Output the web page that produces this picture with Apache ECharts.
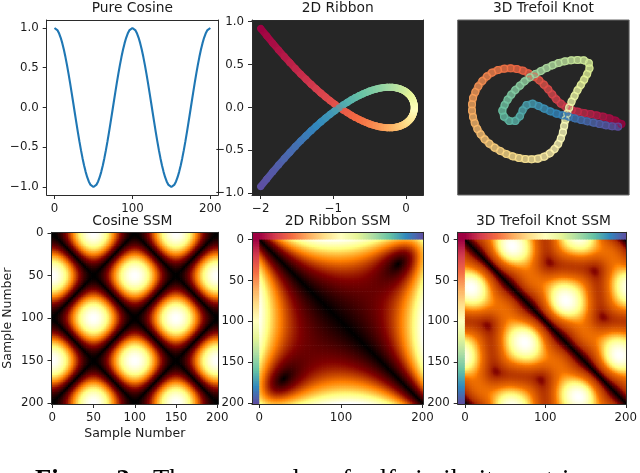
<!DOCTYPE html>
<html>
<head>
<meta charset="utf-8">
<style>html,body{margin:0;padding:0;background:#fff;overflow:hidden}#c{width:640px;height:473px;filter:blur(.45px)}</style>
<script src="https://cdn.jsdelivr.net/npm/echarts@6/dist/echarts.min.js"></script>
</head>
<body>
<div id="c"></div>
<script>
// sample index runs 0,2,...,200
const cosineHalf = [1,.992,.969,.93,.876,.809,.729,.637,.536,.426,.309,.187,.063,-.063,-.187,-.309,-.426,-.536,-.637,-.729,-.809,-.876,-.93,-.969,-.992,-1,-.992,-.969,-.93,-.876,-.809,-.729,-.637,-.536,-.426,-.309,-.187,-.063,.063,.187,.309,.426,.536,.637,.729,.809,.876,.93,.969,.992];
const cosineValues = [...cosineHalf, ...cosineHalf, 1];

const ribbonX = [-2,-1.916,-1.834,-1.754,-1.675,-1.598,-1.523,-1.449,-1.377,-1.307,-1.239,-1.172,-1.107,-1.043,-.981,-.921,-.863,-.806,-.751,-.698,-.646,-.596,-.548,-.502,-.457,-.414,-.372,-.333,-.294,-.258,-.223,-.19,-.159,-.13,-.102,-.075,-.051,-.028,-.007,.013,.03,.046,.061,.074,.085,.094,.101,.107,.112,.114,.115,
 .114,.112,.107,.101,.094,.085,.074,.061,.046,.03,.013,-.007,-.028,-.051,-.075,-.102,-.13,-.159,-.19,-.223,-.258,-.294,-.333,-.372,-.414,-.457,-.502,-.548,-.596,-.646,-.698,-.751,-.806,-.863,-.921,-.981,-1.043,-1.107,-1.172,-1.239,-1.307,-1.377,-1.449,-1.523,-1.598,-1.675,-1.754,-1.834,-1.916,-2];
const ribbonY = [.92,.833,.749,.669,.594,.522,.454,.389,.329,.272,.219,.169,.123,.079,.039,.003,-.031,-.062,-.09,-.116,-.138,-.158,-.176,-.191,-.204,-.214,-.223,-.229,-.233,-.236,-.236,-.235,-.232,-.228,-.222,-.215,-.206,-.197,-.186,-.174,-.161,-.148,-.133,-.118,-.102,-.086,-.069,-.052,-.035,-.018,0,
 .018,.035,.052,.069,.086,.102,.118,.133,.148,.161,.174,.186,.197,.206,.215,.222,.228,.232,.235,.236,.236,.233,.229,.223,.214,.204,.191,.176,.158,.138,.116,.09,.062,.031,-.003,-.039,-.079,-.123,-.169,-.219,-.272,-.329,-.389,-.454,-.522,-.594,-.669,-.749,-.833,-.92];

// trefoil coordinates in space, used for the distance matrix
const knotX = [0,.188,.372,.549,.715,.867,1.001,1.115,1.207,1.274,1.314,1.327,1.311,1.267,1.194,1.093,.966,.813,.636,.44,.225,-.005,-.246,-.494,-.748,-1,-1.249,-1.489,-1.718,-1.933,-2.127,-2.299,-2.446,-2.565,-2.654,-2.711,-2.736,-2.725,-2.681,-2.602,-2.49,-2.346,-2.171,-1.967,-1.737,-1.485,-1.213,-.923,-.622,-.314,0,
 .314,.622,.923,1.213,1.485,1.737,1.967,2.171,2.346,2.49,2.602,2.681,2.725,2.736,2.711,2.654,2.565,2.446,2.299,2.127,1.933,1.718,1.489,1.249,1,.748,.494,.246,.005,-.225,-.44,-.636,-.813,-.966,-1.093,-1.194,-1.267,-1.311,-1.327,-1.314,-1.274,-1.207,-1.115,-1.001,-.867,-.715,-.549,-.372,-.188,0];
const knotY = [-3,-2.982,-2.929,-2.842,-2.722,-2.569,-2.388,-2.18,-1.948,-1.696,-1.427,-1.146,-.855,-.559,-.262,.03,.316,.59,.849,1.09,1.309,1.504,1.673,1.812,1.921,2,2.047,2.062,2.047,2.002,1.927,1.826,1.701,1.554,1.388,1.206,1.012,.811,.603,.396,.191,-.008,-.196,-.37,-.528,-.667,-.784,-.878,-.945,-.986,-1,
 -.986,-.945,-.878,-.784,-.667,-.528,-.37,-.196,-.008,.191,.396,.603,.811,1.012,1.206,1.388,1.554,1.701,1.826,1.927,2.002,2.047,2.062,2.047,2,1.921,1.812,1.673,1.504,1.309,1.09,.849,.59,.316,.03,-.262,-.559,-.855,-1.146,-1.427,-1.696,-1.948,-2.18,-2.388,-2.569,-2.722,-2.842,-2.929,-2.982,-3];
const knotZ = [0,.187,.368,.536,.685,.809,.905,.969,.998,.992,.951,.876,.771,.637,.482,.309,.125,-.063,-.249,-.426,-.588,-.729,-.844,-.93,-.982,-1,-.982,-.93,-.844,-.729,-.588,-.426,-.249,-.063,.125,.309,.482,.637,.771,.876,.951,.992,.998,.969,.905,.809,.685,.536,.368,.187,0,
 -.187,-.368,-.536,-.685,-.809,-.905,-.969,-.998,-.992,-.951,-.876,-.771,-.637,-.482,-.309,-.125,.063,.249,.426,.588,.729,.844,.93,.982,1,.982,.93,.844,.729,.588,.426,.249,.063,-.125,-.309,-.482,-.637,-.771,-.876,-.951,-.992,-.998,-.969,-.905,-.809,-.685,-.536,-.368,-.187,0];

// trefoil as seen in the picture's 3D view (screen-like units of the hidden axes)
const knotViewX = [54.5,52.7,50.9,49,47.1,45.2,43.3,41.4,39.6,37.9,36.3,34.9,33.7,32.5,31.2,29.8,28.3,26.6,24.9,23.1,21.2,19.3,17.4,15.6,14.1,12.7,11.5,10.6,9.9,9.6,9.6,9.9,10.4,11.2,12.2,13.4,14.8,16.4,18.1,19.9,21.8,23.7,25.6,27.5,29.4,31.3,33,34.4,35.5,36.3,36.9,37.3,37.7,38.2,38.8,39.5,40.4,41.3,42.3,43.3,44.2,44.9,44.7,43.2,41.3,39.4,37.5,35.6,33.8,32,30.3,28.6,27,25.4,24,22.6,21.4,20.3,19.4,18.7,19.2,20.8,22.6,24,24.8,26,27.8,29.6,31.3,33.1,35,36.8,38.7,40.5,42.4,44.2,46.1,47.9,49.8,51.7,53.5];
const knotViewY = [37.2,36.2,35.5,35,34.6,34.2,33.9,33.5,33,32.2,31.1,29.8,28.3,26.8,25.4,24.1,23,22,21.2,20.7,20.5,20.6,21,21.8,22.9,24.3,25.9,27.6,29.4,31.3,33.2,35.1,36.9,38.7,40.3,41.8,43.1,44.3,45.3,46.2,46.9,47.4,47.7,47.8,47.6,47,46,44.7,43.2,41.5,39.7,37.8,35.9,34.1,32.3,30.5,28.8,27.1,25.5,23.9,22.2,20.5,18.9,18.1,18,18.1,18.4,18.9,19.6,20.4,21.3,22.2,23.2,24.4,25.7,27,28.4,29.9,31.5,33.2,35,36.3,36.3,34.9,33.1,31.5,31.1,31.8,32.6,33.4,34.1,34.6,35,35.5,36,36.4,36.8,37.2,37.6,37.9,38];

const sampleNumbers = cosineValues.map((_, i) => i * 2);
const stripNumbers = [-8, -6, -4, -2];
const titles = ['Pure Cosine', '2D Ribbon', '3D Trefoil Knot', 'Cosine SSM', '2D Ribbon SSM', '3D Trefoil Knot SSM'];
const captionHead = 'Figure 3:';
const captionBody = 'Three examples of self-similarity matrices';
const axisName = 'Sample Number';
const afmhot = ['#000000', '#800000', '#ff8000', '#ffff80', '#ffffff'];
const spectralStops = ['#9e0142','#d53e4f','#f46d43','#fdae61','#fee08b','#ffffbf','#e6f598','#abdda4','#66c2a5','#3288bd','#5e4fa2'];
// tone of the trefoil matrix: relative distance -> position in the afmhot ramp
const knotToneIn = [0, .28, .6, .8, 1];
const knotToneOut = [0, .33, .47, .72, 1];

const spectral = t => echarts.color.lerp(t, spectralStops);
const FONT = 'DejaVu Sans';
const INK = '#1a1a1a';
const LEFTS = [46.7, 252, 457.7], W = 171.4;
const TOPS = [20, 232.3], HS = [175, 171.7];
const lineStyle = { color: '#2b2b2b', width: 1 };

const grid = [];
for (let r = 0; r < 2; r++) for (let c = 0; c < 3; c++) {
  const g = { left: LEFTS[c], top: TOPS[r], width: W, height: HS[r] };
  if (r === 0 && c > 0) { g.show = true; g.backgroundColor = '#262626'; g.borderWidth = 0; }
  if (r === 0 && c === 2) { g.borderWidth = 1; g.borderColor = '#666'; }
  grid.push(g);
}
const label = { color: INK, fontFamily: FONT, fontSize: 11.8, margin: 8 };
const tick = { length: 4, lineStyle };
const minus = v => String(v).replace('-', '\u2212');

function valueAxis(gridIndex, min, max, values, fmt, extra) {
  return Object.assign({
    type: 'value', gridIndex, min, max, scale: true, splitLine: { show: false },
    axisLine: { show: true, onZero: false, lineStyle },
    axisTick: { show: true, customValues: values, ...tick },
    axisLabel: { ...label, customValues: values, formatter: v => minus(fmt(v)) }, z: 5
  }, extra || {});
}
function catAxis(gridIndex, cats, every, extra) {
  const show = (i, v) => +v >= 0 && +v % every === 0;
  return Object.assign({
    type: 'category', gridIndex, data: cats.map(String), splitLine: { show: false },
    axisLine: { show: true, onZero: false, lineStyle },
    axisTick: { show: true, alignWithLabel: true, interval: show, ...tick },
    axisLabel: { ...label, interval: show }, z: 5
  }, extra || {});
}
function frameAxes(gridIndex) {
  const a = { type: 'value', gridIndex, min: 0, max: 1, z: 5, silent: true, splitLine: { show: false },
    axisTick: { show: false }, axisLabel: { show: false }, axisLine: { show: true, onZero: false, lineStyle } };
  return [{ ...a, position: 'top' }, { ...a, position: 'right' }];
}
const yName = { name: axisName, nameLocation: 'middle', nameGap: 37.5, nameTextStyle: { color: INK, fontFamily: FONT, fontSize: 12.5 } };
const xName = { name: axisName, nameLocation: 'middle', nameGap: 23, nameTextStyle: { color: INK, fontFamily: FONT, fontSize: 12.5 } };

const stripCats = [...stripNumbers, ...sampleNumbers];
const xAxis = [
  valueAxis(0, -10, 210, [0, 100, 200], v => v),
  valueAxis(1, -2.12, .24, [-2, -1, 0], v => v),
  { type: 'value', gridIndex: 2, min: 5.3, max: 56.8, show: false },
  catAxis(3, sampleNumbers, 50, { ...xName }),
  catAxis(4, stripCats, 100),
  catAxis(5, stripCats, 100)
];
const yTicks = [-1, -.5, 0, .5, 1];
const yAxis = [
  valueAxis(0, -1.1, 1.1, yTicks, v => v.toFixed(1)),
  valueAxis(1, -1.02, 1.02, yTicks, v => v.toFixed(1)),
  { type: 'value', gridIndex: 2, min: 6, max: 58.5, inverse: true, show: false },
  catAxis(3, sampleNumbers, 50, { inverse: true, ...yName }),
  catAxis(4, stripCats, 50, { inverse: true }),
  catAxis(5, stripCats, 50, { inverse: true })
];
[0, 1, 3, 4, 5].forEach(g => { const [t, r] = frameAxes(g); xAxis.push(t); yAxis.push(r); });

function distances(coords, offset) {
  const out = []; let top = 0;
  const n = coords[0].length;
  for (let i = 0; i < n; i++) for (let j = 0; j < n; j++) {
    let d = 0;
    coords.forEach(a => { d += (a[i] - a[j]) * (a[i] - a[j]); });
    d = Math.sqrt(d);
    if (d > top) top = d;
    out.push([i + offset, j + offset, d]);
  }
  return { out, top };
}
function strips(offset) {
  const out = [];
  const n = sampleNumbers.length;
  for (let a = 0; a < offset; a++) {
    for (let b = 0; b < offset; b++) out.push([a, b, 0]);
    for (let i = 0; i < n; i++) { out.push([i + offset, a, i / (n - 1)]); out.push([a, i + offset, i / (n - 1)]); }
  }
  return out;
}
// matrix cells placed exactly through the category axes
const heat = (idx, data) => ({
  type: 'custom', xAxisIndex: idx, yAxisIndex: idx, data, z: 1, silent: true, clip: true, progressive: 0,
  encode: { x: 0, y: 1 },
  renderItem(params, api) {
    const c = api.coord([api.value(0), api.value(1)]);
    const s = api.size([1, 1]);
    return { type: 'rect', shape: { x: c[0] - s[0] / 2, y: c[1] - s[1] / 2, width: s[0] + .7, height: s[1] + .7 },
      style: { fill: api.visual('color') } };
  }
});
const ssm1 = distances([cosineValues], 0);
const ssm2 = distances([ribbonX, ribbonY], 4);
const ssm3 = distances([knotX, knotY, knotZ], 4);

// ramp for the trefoil matrix, evenly spaced stops after the tone curve
const knotRamp = [];
for (let i = 0; i <= 40; i++) {
  const v = i / 40;
  let k = 0;
  while (k < knotToneIn.length - 2 && v > knotToneIn[k + 1]) k++;
  const f = (v - knotToneIn[k]) / (knotToneIn[k + 1] - knotToneIn[k]);
  knotRamp.push(echarts.color.lerp(knotToneOut[k] + f * (knotToneOut[k + 1] - knotToneOut[k]), afmhot));
}

// thick coloured band joining successive samples, under the markers
function band(idx, xs, ys, width, dim) {
  const data = xs.slice(0, -1).map((x, i) => [x, ys[i], xs[i + 1], ys[i + 1], i]);
  return {
    type: 'custom', xAxisIndex: idx, yAxisIndex: idx, z: 2, silent: true, clip: true, data,
    encode: { x: [0, 2], y: [1, 3] },
    renderItem(params, api) {
      const a = api.coord([api.value(0), api.value(1)]);
      const b = api.coord([api.value(2), api.value(3)]);
      let c = spectral((api.value(4) + .5) / (xs.length - 1));
      if (dim) c = echarts.color.lerp(dim, [c, '#262626']);
      return { type: 'line', shape: { x1: a[0], y1: a[1], x2: b[0], y2: b[1] },
        style: { stroke: c, lineWidth: width, lineCap: 'round', fill: null } };
    }
  };
}

const series = [
  { type: 'line', xAxisIndex: 0, yAxisIndex: 0, data: sampleNumbers.map((s, i) => [s, cosineValues[i]]), showSymbol: false, smooth: false, lineStyle: { color: '#1f77b4', width: 2.1 }, silent: true },
  { type: 'scatter', xAxisIndex: 1, yAxisIndex: 1, symbolSize: 7, silent: true, z: 3,
    data: ribbonX.map((x, i) => ({ value: [x, ribbonY[i]], itemStyle: { color: spectral(i / 100) } })) },
  { type: 'scatter', xAxisIndex: 2, yAxisIndex: 2, symbolSize: 7, silent: true, z: 3,
    data: knotViewX.map((x, i) => {
      const c = spectral(i / 100);
      return { value: [x, knotViewY[i]], itemStyle: { color: echarts.color.modifyAlpha(c, .3), borderColor: c, borderWidth: 1.1 } };
    }) },
  heat(3, ssm1.out),
  heat(4, ssm2.out),
  heat(4, strips(4)),
  heat(5, ssm3.out),
  heat(5, strips(4)),
  band(1, ribbonX, ribbonY, 7, 0),
  band(2, knotViewX, knotViewY, 7.5, .3)
];
const vm = (seriesIndex, max, colors) => ({ type: 'continuous', show: false, seriesIndex, dimension: 2, min: 0, max, inRange: { color: colors } });
const visualMap = [
  vm(3, ssm1.top, afmhot), vm(4, ssm2.top, afmhot), vm(5, 1, spectralStops),
  vm(6, ssm3.top, knotRamp), vm(7, 1, spectralStops)
];

const title = titles.map((text, i) => ({
  text, left: LEFTS[i % 3] + W / 2, textAlign: 'center', top: i < 3 ? 1 : 214, padding: 0,
  textStyle: { color: INK, fontFamily: FONT, fontSize: 13.8, fontWeight: 'normal' }
}));
title.push({ text: captionHead, left: 35, top: 467.5, padding: 0, textStyle: { color: '#000', fontFamily: 'Liberation Serif', fontSize: 26.6, fontWeight: 'bold' } });
title.push({ text: captionBody, left: 153, top: 467.5, padding: 0, textStyle: { color: '#000', fontFamily: 'Liberation Serif', fontSize: 26.6, fontWeight: 'normal' } });

echarts.init(document.getElementById('c'), null, { renderer: 'canvas' }).setOption({
  animation: false, backgroundColor: '#fff', tooltip: { show: false },
  title, grid, xAxis, yAxis, visualMap, series
});
</script>
</body>
</html>
